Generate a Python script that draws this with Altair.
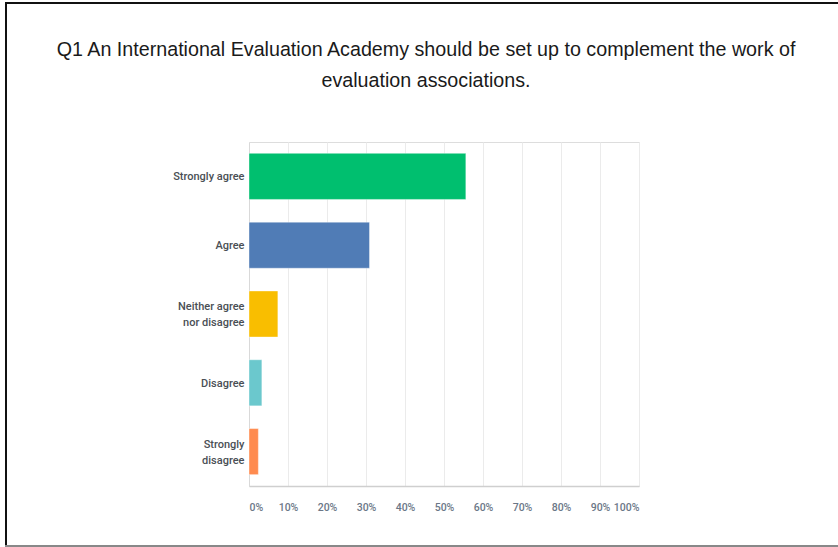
import altair as alt
import pandas as pd

categories = ["Strongly agree", "Agree", "Neither agree|nor disagree", "Disagree", "Strongly|disagree"]
percents = [55.6, 30.9, 7.4, 3.3, 2.4]
colors = ["#00BF6F", "#507CB6", "#F9BE00", "#6BC8CD", "#FF8B4F"]
x_ticks = [0, 10, 20, 30, 40, 50, 60, 70, 80, 90, 100]
title_lines = [
    "Q1 An International Evaluation Academy should be set up to complement the work of",
    "evaluation associations.",
]

df = pd.DataFrame({"answer": categories, "pct": percents})

LABEL_FONT = "Roboto"

bars = alt.Chart(df).mark_bar(stroke="#ffffff", strokeOpacity=0.4, strokeWidth=1).encode(
    y=alt.Y(
        "answer:N",
        sort=None,
        title=None,
        scale=alt.Scale(paddingInner=0.33, paddingOuter=0.165),
        axis=alt.Axis(
            labelExpr="split(datum.value, '|')",
            labelOffset={"condition": {"test": "indexof(datum.value, '|') >= 0", "value": -7}, "value": 1},
            ticks=False,
            domain=True,
            domainColor="#d9d9d9",
            labelPadding=5,
            labelFont=LABEL_FONT,
            labelFontWeight=500,
            labelFontSize=11,
            labelColor="#4a4f55",
            labelLineHeight=16,
        ),
    ),
    x=alt.X(
        "pct:Q",
        title=None,
        scale=alt.Scale(domain=[0, 100], nice=False),
        axis=alt.Axis(
            values=x_ticks,
            labelExpr="datum.value + '%'",
            ticks=False,
            grid=True,
            gridColor="#ebebeb",
            domainColor="#cfcfcf",
            domainWidth=1.5,
            labelFlush=True,
            labelPadding=16,
            labelFont=LABEL_FONT,
            labelFontWeight=500,
            labelFontSize=10.5,
            labelColor="#6b7787",
        ),
    ),
    color=alt.Color("answer:N", sort=None, scale=alt.Scale(domain=categories, range=colors), legend=None),
)

frame_data = alt.Data(values=[{"k": 1}])
left_line = alt.Chart(frame_data).mark_rule(color="#111111", strokeWidth=2).encode(
    x=alt.value(-243), y=alt.value(-139), y2=alt.value(405)
)
top_line = alt.Chart(frame_data).mark_rule(color="#111111", strokeWidth=2).encode(
    x=alt.value(-244), x2=alt.value(600), y=alt.value(-139)
)
bottom_line = alt.Chart(frame_data).mark_rule(color="#888888", strokeWidth=2).encode(
    x=alt.value(-244), x2=alt.value(600), y=alt.value(404)
)
title_text = alt.Chart(frame_data).mark_text(
    font="Liberation Sans",
    fontSize=19.7,
    color="#1a1a1a",
    align="center",
    baseline="alphabetic",
    lineHeight=31,
).encode(
    x=alt.value(177), y=alt.value(-86), text=alt.value(title_lines)
)

chart = alt.layer(bars, left_line, top_line, bottom_line, title_text).properties(
    width=390,
    height=344,
    padding={"left": 249, "top": 142, "right": 199, "bottom": 61},
    autosize=alt.AutoSizeParams(type="none"),
).configure_view(stroke=None).configure(background="white")

chart.save("out.html", embed_options={"renderer": "svg", "actions": False})
